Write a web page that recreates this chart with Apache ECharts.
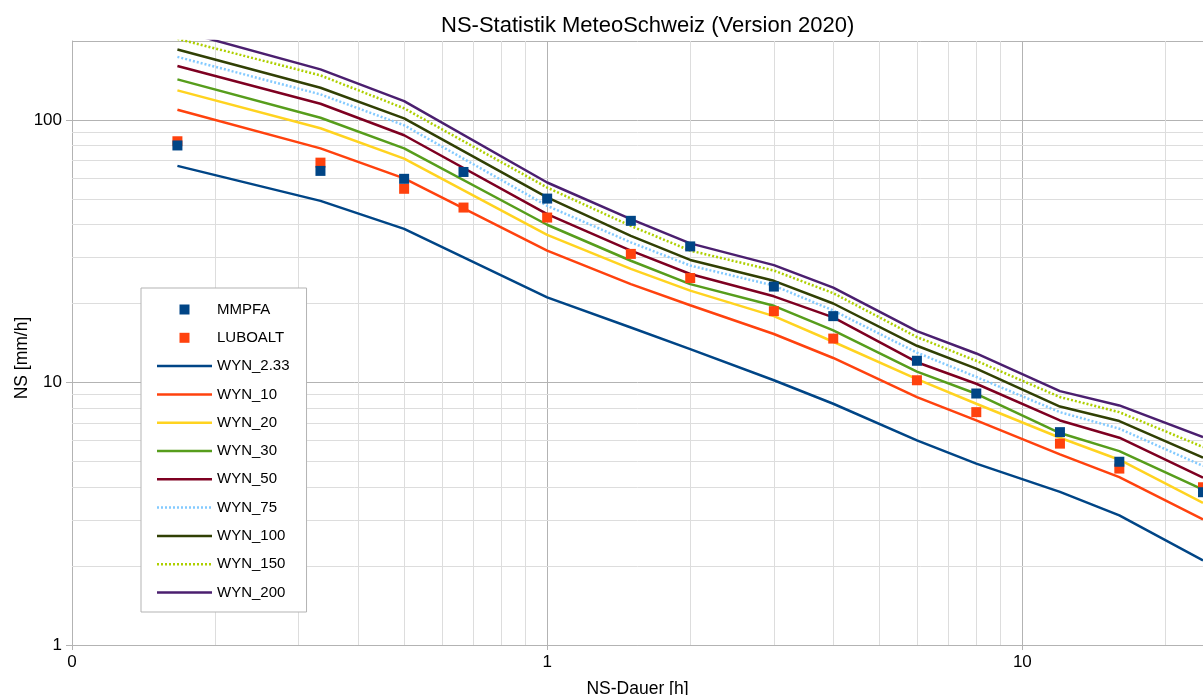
<!DOCTYPE html>
<html><head><meta charset="utf-8">
<script src="https://cdn.jsdelivr.net/npm/echarts@6/dist/echarts.min.js"></script>
<style>html,body{margin:0;padding:0;background:#fff}#c{width:1203px;height:695px}</style>
</head><body><div id="c"></div>
<script>
// NS-Dauer [h]
const lineDurations = [1/6, 1/3, 0.5, 1, 1.5, 2, 3, 4, 6, 8, 12, 16, 24];
const pointDurations = [1/6, 1/3, 0.5, 2/3, 1, 1.5, 2, 3, 4, 6, 8, 12, 16, 24];

const MMPFA   = [80.0, 64.0, 59.7, 63.4, 50.2, 41.3, 33.0, 23.2, 17.9, 12.1, 9.08, 6.47, 4.99, 3.82];
const LUBOALT = [83.0, 68.8, 54.7, 46.4, 42.5, 30.9, 25.0, 18.7, 14.7, 10.2, 7.71, 5.85, 4.70, 3.99];

const WYN_2_33 = [66.9, 49.2, 38.5, 21.1, 16.2, 13.4, 10.2, 8.3, 6.02, 4.91, 3.83, 3.12, 2.10];
const WYN_10   = [109.4, 78.0, 59.9, 31.8, 23.7, 19.7, 15.3, 12.4, 8.80, 7.17, 5.32, 4.36, 3.01];
const WYN_20   = [129.7, 93.0, 71.3, 36.5, 27.1, 22.4, 17.9, 14.3, 10.3, 8.30, 6.16, 5.08, 3.48];
const WYN_30   = [142.8, 102.0, 78.0, 39.9, 29.1, 23.7, 19.6, 15.8, 11.0, 9.06, 6.42, 5.48, 3.91];
const WYN_50   = [160.5, 115.3, 87.5, 43.8, 31.8, 25.9, 21.3, 17.7, 11.95, 9.89, 7.17, 6.16, 4.34];
const WYN_75   = [174.0, 125.2, 95.5, 47.1, 34.2, 27.9, 23.4, 18.8, 13.0, 10.5, 7.71, 6.67, 4.81];
const WYN_100  = [185.7, 132.7, 101.5, 50.7, 36.2, 29.3, 24.4, 20.0, 13.8, 11.3, 8.10, 7.13, 5.17];
const WYN_150  = [204, 147.9, 110.8, 55.3, 39.5, 31.8, 26.7, 21.9, 14.9, 12.1, 8.80, 7.71, 5.68];
const WYN_200  = [220, 155.9, 118.1, 57.8, 41.9, 33.9, 28.0, 23.0, 15.7, 12.9, 9.27, 8.18, 6.19];

// minor grid tick values
const minorX = [0.2, 0.3, 0.4, 0.5, 0.6, 0.7, 0.8, 0.9, 2, 3, 4, 5, 6, 7, 8, 9, 20];
const minorY = [2, 3, 4, 5, 6, 7, 8, 9, 20, 30, 40, 50, 60, 70, 80, 90];

const FONT = 'Liberation Sans';
const pair = (xs, ys) => xs.map((x, i) => [x, ys[i]]);

const lineDefs = [
  ['WYN_2.33', WYN_2_33, '#004586', 'solid'],
  ['WYN_10', WYN_10, '#ff420e', 'solid'],
  ['WYN_20', WYN_20, '#ffd320', 'solid'],
  ['WYN_30', WYN_30, '#579d1c', 'solid'],
  ['WYN_50', WYN_50, '#7e0021', 'solid'],
  ['WYN_75', WYN_75, '#83caff', [2, 2]],
  ['WYN_100', WYN_100, '#314004', 'solid'],
  ['WYN_150', WYN_150, '#aecf00', [2, 2]],
  ['WYN_200', WYN_200, '#4b1f6f', 'solid']
];

// legend icons (box 55 x 14)
const solidIcon = 'path://M0,0 M55,14 M0,5.75 h55 v2.5 h-55 Z';
let dotPath = 'path://M0,0 M55,14';
for (let x = 0; x < 55; x += 4) dotPath += ' M' + x + ',5.75 h2 v2.5 h-2 Z';
const dotIcon = dotPath;
const sqIcon = 'path://M0,0 M55,14 M22.5,2 h10 v10 h-10 Z';

const series = [{
  type: 'line', data: [], z: 1, silent: true,
  markLine: {
    z: 1, silent: true, symbol: 'none', animation: false,
    label: { show: false },
    lineStyle: { color: '#dddddd', width: 1, type: 'solid' },
    emphasis: { disabled: true },
    data: minorX.map(v => ({ xAxis: v })).concat(minorY.map(v => ({ yAxis: v })))
  }
}];
lineDefs.forEach(([name, vals, color, type]) => {
  series.push({
    name, type: 'line', z: 3, data: pair(lineDurations, vals),
    showSymbol: false, symbol: 'none',
    lineStyle: { color, width: 2.5, type },
    itemStyle: { color }
  });
});
series.push({
  name: 'LUBOALT', type: 'scatter', z: 5, symbol: 'rect', symbolSize: 10,
  data: pair(pointDurations, LUBOALT), itemStyle: { color: '#ff420e', opacity: 1 }
});
series.push({
  name: 'MMPFA', type: 'scatter', z: 6, symbol: 'rect', symbolSize: 10,
  data: pair(pointDurations, MMPFA), itemStyle: { color: '#004586', opacity: 1 }
});

const legendData = [{ name: 'MMPFA', icon: sqIcon }, { name: 'LUBOALT', icon: sqIcon }]
  .concat(lineDefs.map(d => ({ name: d[0], icon: d[3] === 'solid' ? solidIcon : dotIcon })));

const chart = echarts.init(document.getElementById('c'));
chart.setOption({
  animation: false,
  backgroundColor: '#fff',
  textStyle: { fontFamily: FONT },
  title: {
    text: 'NS-Statistik MeteoSchweiz (Version 2020)',
    left: 441, top: 15, padding: 0,
    textStyle: { fontFamily: FONT, fontSize: 22, fontWeight: 'normal', color: '#000' }
  },
  grid: { left: 72, right: 0, top: 41, bottom: 50, containLabel: false, outerBoundsMode: 'none' },
  legend: {
    data: legendData, orient: 'vertical', left: 141, top: 288, z: 10,
    padding: [14, 17, 12, 16], itemWidth: 55, itemHeight: 14, itemGap: 13.3,
    borderColor: '#b3b3b3', borderWidth: 1, backgroundColor: '#fff',
    itemStyle: { borderWidth: 0, opacity: 1 },
    textStyle: { fontFamily: FONT, fontSize: 15, color: '#000' },
    selectedMode: false
  },
  xAxis: {
    type: 'log', logBase: 10, min: 0.1, max: 24,
    name: 'NS-Dauer [h]', nameLocation: 'middle', nameGap: 35, nameMoveOverlap: false,
    nameTextStyle: { fontFamily: FONT, fontSize: 17.5, color: '#000' },
    axisLine: { show: true, lineStyle: { color: '#b3b3b3', width: 1 } },
    axisTick: { show: true, length: 5, lineStyle: { color: '#b3b3b3' } },
    axisLabel: {
      margin: 9, fontFamily: FONT, fontSize: 17, color: '#000',
      showMaxLabel: false, showMinLabel: true,
      formatter: v => String(Math.round(v))
    },
    splitLine: { show: true, lineStyle: { color: '#b3b3b3', width: 1 } }
  },
  yAxis: {
    type: 'log', logBase: 10, min: 1, max: 200,
    name: 'NS [mm/h]', nameLocation: 'middle', nameGap: 41, nameMoveOverlap: false,
    nameTextStyle: { fontFamily: FONT, fontSize: 17.5, color: '#000', padding: [0, 30, 0, 0] },
    axisLine: { show: true, lineStyle: { color: '#b3b3b3', width: 1 } },
    axisTick: { show: true, length: 6, lineStyle: { color: '#b3b3b3' } },
    axisLabel: {
      margin: 10, fontFamily: FONT, fontSize: 17, color: '#000',
      showMaxLabel: false, showMinLabel: true,
      formatter: v => String(Math.round(v))
    },
    splitLine: { show: true, lineStyle: { color: '#b3b3b3', width: 1 } }
  },
  series
});
</script></body></html>
